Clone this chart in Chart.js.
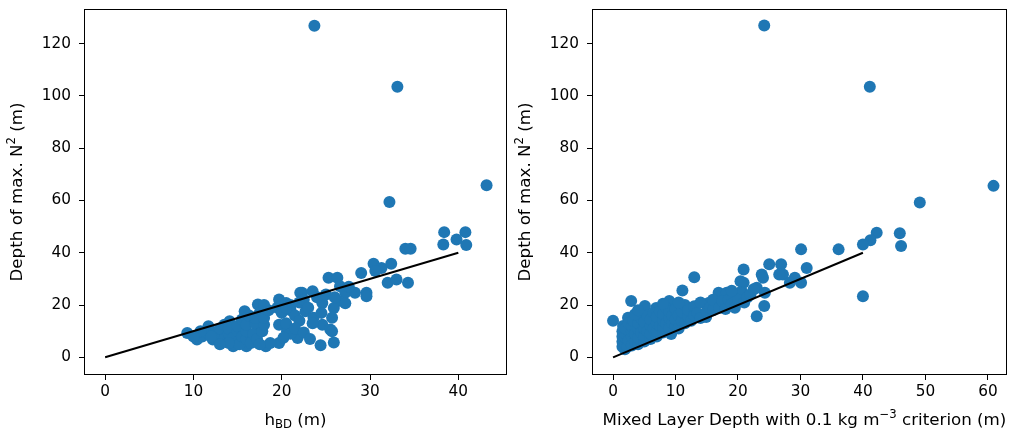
<!DOCTYPE html>
<html>
<head>
<meta charset="utf-8">
<script src="https://cdn.jsdelivr.net/npm/chart.js@4"></script>
<style>
  body { margin: 0; background: #fff; }
  #wrap { position: relative; width: 1012px; height: 434px; }
  canvas { position: absolute; top: 0; }
</style>
</head>
<body>
<div id="wrap">
  <canvas id="left" width="512" height="434" style="left:0"></canvas>
  <canvas id="right" width="500" height="434" style="left:512px"></canvas>
</div>
<script>
// h_BD (m) against depth of max N^2 (m)
const hbdX = [23.7, 33.1, 43.2, 32.2, 38.4, 40.8, 39.8, 38.3, 40.9, 34.0, 34.6, 30.4, 31.3, 32.4, 29.0, 30.6, 32.0, 33.0, 34.3, 25.3,
  26.3, 26.6, 27.2, 29.6, 29.6, 28.3, 23.5, 22.3, 24.6, 26.4, 25.9, 25.7, 22.7, 23.6, 24.6, 25.5, 25.9, 24.4, 9.3, 10.4,
  11.7, 12.2, 12.9, 14.1, 14.5, 15.0, 15.8, 16.0, 17.3, 17.5, 18.2, 19.7, 20.5, 19.7, 20.6, 19.7, 21.8, 22.1, 25.7, 27.6, 27.2,
  11.0, 11.5, 12.0, 12.5, 13.0, 13.0, 13.5, 13.5, 14.0, 14.0, 14.5, 15.0, 15.0, 15.2, 15.5, 15.5, 16.0, 16.0, 16.0, 16.3,
  16.5, 16.8, 17.0, 17.0, 17.2, 17.5, 17.8, 18.0, 18.0, 18.5, 19.5, 20.0, 20.5, 21.0, 21.0, 21.5, 22.0, 22.0, 21.0, 20.2,
  18.7, 17.5, 14.0, 13.0, 12.0, 10.8, 10.0, 22.5, 23.0, 23.5, 24.0, 24.5, 25.0, 26.0, 21.5, 22.5, 23.2, 18.0, 20.5];
const hbdY = [126.9, 103.5, 65.8, 59.4, 47.9, 47.9, 45.1, 43.2, 43.0, 41.5, 41.5, 35.8, 34.2, 35.8, 32.3, 33.0, 28.5, 29.8, 28.5, 30.4,
  30.4, 27.2, 24.7, 24.7, 23.4, 24.7, 25.3, 24.7, 20.8, 21.5, 18.9, 15.1, 17.6, 15.1, 12.5, 10.6, 5.7, 4.6, 9.3, 6.8,
  11.9, 6.8, 6.1, 13.8, 4.2, 6.1, 17.6, 4.2, 20.2, 11.3, 4.2, 22.1, 20.8, 12.5, 10.0, 5.5, 7.4, 24.7, 10.0, 27.0, 20.7,
  8.0, 9.5, 10.0, 8.5, 9.0, 11.0, 7.0, 12.5, 9.0, 11.0, 7.5, 10.0, 12.0, 5.0, 8.0, 14.5, 7.0, 10.0, 12.5, 16.0,
  5.5, 9.0, 13.0, 15.0, 7.0, 17.0, 10.0, 12.5, 15.0, 18.0, 19.0, 17.0, 13.0, 18.0, 20.0, 16.0, 14.0, 21.0, 9.0, 7.5,
  5.5, 5.0, 5.5, 5.0, 8.0, 10.0, 8.0, 22.0, 19.0, 13.0, 23.0, 17.0, 24.0, 23.0, 11.0, 9.5, 7.0, 20.0, 19.0];

// mixed layer depth (0.1 kg m^-3) against depth of max N^2 (m)
const mldX = [24.2, 41.1, 60.9, 49.1, 42.2, 45.9, 46.1, 41.2, 40.0, 36.1, 30.1, 40.0, 31.0, 26.9, 25.0, 23.8, 24.0, 27.2, 29.1, 28.3,
  30.1, 20.9, 20.9, 23.0, 24.3, 24.2, 23.0, 20.6, 19.6, 16.9, 18.2, 15.3, 16.9, 13.0, 14.9, 11.1, 9.0, 6.9, 5.1, 2.9,
  0.0, 1.9, 1.9, 2.4, 9.3, 20.4, 20.4, 26.6,
  1.5, 1.5, 1.5, 1.5, 1.6, 2.0, 2.0, 2.0, 2.0, 2.3, 2.5, 2.5, 3.0, 3.0, 3.0, 3.0, 3.2, 3.5, 3.5, 4.0,
  4.0, 4.0, 4.0, 4.5, 4.5, 5.0, 5.0, 5.0, 5.0, 5.5, 5.5, 6.0, 6.0, 6.0, 6.0, 6.5, 6.5, 7.0, 7.0, 7.0,
  7.0, 7.5, 7.5, 8.0, 8.0, 8.0, 8.0, 8.5, 8.5, 9.0, 9.0, 9.0, 9.5, 9.5, 10.0, 10.0, 10.0, 10.5, 10.5, 11.0,
  11.0, 11.5, 11.5, 12.0, 12.0, 12.5, 13.0, 13.0, 13.5, 14.0, 14.0, 15.0, 15.5, 16.0, 16.0, 17.0, 17.5, 18.0, 18.5, 19.0,
  19.5, 20.0, 21.0, 21.5, 22.0, 22.5, 19.0, 3.5, 4.0, 8.0, 10.5];
const mldY = [127.0, 103.5, 65.6, 59.2, 47.7, 47.5, 42.6, 44.8, 43.2, 41.3, 41.3, 23.4, 34.2, 35.6, 35.6, 31.7, 30.4, 31.7, 30.4, 28.5,
  28.5, 33.6, 28.5, 26.6, 24.7, 19.6, 15.7, 25.3, 23.4, 24.7, 24.7, 20.8, 20.2, 30.6, 15.4, 25.6, 21.5, 18.9, 19.6, 21.5,
  14.0, 6.1, 3.1, 15.1, 8.9, 29.1, 24.7, 31.7,
  4.0, 6.0, 8.0, 10.0, 12.0, 5.0, 7.5, 9.0, 11.0, 4.0, 6.5, 13.0, 4.5, 8.0, 10.0, 12.0, 14.0, 6.0, 9.0, 5.0,
  7.5, 11.0, 13.0, 9.5, 15.0, 6.0, 8.0, 11.0, 13.5, 10.0, 16.0, 7.0, 9.0, 12.0, 14.5, 11.0, 17.0, 8.0, 10.0, 13.0,
  15.5, 12.0, 17.5, 9.5, 11.5, 14.0, 16.5, 13.0, 19.0, 11.0, 15.0, 17.5, 13.0, 16.0, 12.0, 14.5, 18.5, 11.0, 16.0, 14.0,
  17.5, 13.0, 20.0, 15.5, 18.0, 14.0, 16.0, 19.5, 17.0, 15.0, 21.0, 17.5, 19.0, 18.0, 22.0, 19.0, 21.5, 18.5, 22.0, 20.5,
  19.0, 22.0, 21.0, 23.0, 24.0, 26.0, 25.5, 16.5, 18.0, 20.5, 21.0];

// 1:1 reference line
const fitX = [0, 40];
const fitY = [0, 40];

const depthTicks = [0, 20, 40, 60, 80, 100, 120];
const hbdTicks = [0, 10, 20, 30, 40];
const mldTicks = [0, 10, 20, 30, 40, 50, 60];

const blue = '#1f77b4';
const family = "'DejaVu Sans', sans-serif";
const tickSize = 15.3;
const titleSize = 16.7;

function toPoints(xs, ys) {
  return xs.map((x, i) => ({ x: x, y: ys[i] }));
}

// text with sub/superscript pieces, centred on (cx, cy)
function drawRich(ctx, parts, cx, cy, rot) {
  ctx.save();
  ctx.translate(cx, cy);
  ctx.rotate(rot);
  ctx.textBaseline = 'middle';
  ctx.textAlign = 'left';
  ctx.fillStyle = '#000';
  let total = 0;
  parts.forEach(p => {
    ctx.font = p.size + 'px ' + family;
    p.w = ctx.measureText(p.text).width;
    total += p.w;
  });
  let x = -total / 2;
  parts.forEach(p => {
    ctx.font = p.size + 'px ' + family;
    ctx.fillText(p.text, x, p.dy || 0);
    x += p.w;
  });
  ctx.restore();
}

const frameAndTitles = {
  id: 'frameAndTitles',
  afterDraw(chart, args, opts) {
    const { ctx, chartArea: a } = chart;
    ctx.save();
    ctx.strokeStyle = '#000';
    ctx.lineWidth = 1;
    ctx.strokeRect(a.left - 0.5, a.top - 0.5, a.right - a.left + 1, a.bottom - a.top + 1);
    ctx.restore();
    drawRich(ctx, opts.xTitle, (a.left + a.right) / 2 + opts.xTitleShift, opts.xTitleY, 0);
    drawRich(ctx, opts.yTitle, opts.yTitleX, (a.top + a.bottom) / 2, -Math.PI / 2);
  }
};

// keep the plot box fixed: no extra room for edge tick labels
function noEdgePadding(s) {
  s.paddingTop = 0;
  s.paddingBottom = 0;
  s.paddingLeft = 0;
  s.paddingRight = 0;
}

const small = titleSize * 0.7;
const depthTitle = [
  { text: 'Depth of max. N', size: titleSize },
  { text: '2', size: small, dy: -6 },
  { text: ' (m)', size: titleSize }
];

function makeChart(id, cfg) {
  return new Chart(document.getElementById(id), {
    type: 'scatter',
    data: {
      datasets: [
        {
          type: 'line',
          data: toPoints(fitX, fitY),
          borderColor: '#000',
          borderWidth: 2,
          pointRadius: 0,
          fill: false
        },
        {
          data: toPoints(cfg.xs, cfg.ys),
          backgroundColor: blue,
          borderColor: blue,
          borderWidth: 0,
          pointRadius: 6,
          pointHoverRadius: 6
        }
      ]
    },
    options: {
      responsive: false,
      animation: false,
      events: [],
      layout: { padding: { top: 10, bottom: 0, left: 0, right: cfg.padRight } },
      plugins: {
        legend: { display: false },
        tooltip: { enabled: false },
        frameAndTitles: {
          xTitle: cfg.xTitle,
          xTitleY: 421,
          xTitleShift: cfg.xTitleShift,
          yTitle: depthTitle,
          yTitleX: cfg.yTitleX
        }
      },
      scales: {
        x: {
          type: 'linear',
          min: cfg.xMin,
          max: cfg.xMax,
          afterBuildTicks: s => { s.ticks = cfg.xTicks.map(v => ({ value: v })); },
          afterFit: s => { s.height = 60; noEdgePadding(s); },
          border: { display: false },
          grid: { drawOnChartArea: false, tickLength: 6, tickColor: '#000', tickWidth: 1 },
          ticks: { color: '#000', font: { family: family, size: tickSize }, padding: 3, maxRotation: 0, autoSkip: false }
        },
        y: {
          type: 'linear',
          min: -6.39,
          max: 132.9,
          afterBuildTicks: s => { s.ticks = depthTicks.map(v => ({ value: v })); },
          afterFit: s => { s.width = cfg.yWidth; noEdgePadding(s); },
          border: { display: false },
          grid: { drawOnChartArea: false, tickLength: 6, tickColor: '#000', tickWidth: 1 },
          ticks: { color: '#000', font: { family: family, size: tickSize }, padding: 8, autoSkip: false }
        }
      }
    },
    plugins: [frameAndTitles]
  });
}

makeChart('left', {
  xs: hbdX, ys: hbdY, xTicks: hbdTicks,
  xMin: -2.28, xMax: 45.4,
  yWidth: 85, padRight: 2, yTitleX: 18, xTitleShift: 0,
  xTitle: [
    { text: 'h', size: titleSize },
    { text: 'BD', size: small, dy: 3.5 },
    { text: ' (m)', size: titleSize }
  ]
});

makeChart('right', {
  xs: mldX, ys: mldY, xTicks: mldTicks,
  xMin: -3.21, xMax: 62.9,
  yWidth: 81, padRight: 1, yTitleX: 14, xTitleShift: 5,
  xTitle: [
    { text: 'Mixed Layer Depth with 0.1 kg m', size: titleSize },
    { text: '\u22123', size: small, dy: -6 },
    { text: ' criterion (m)', size: titleSize }
  ]
});
</script>
</body>
</html>
